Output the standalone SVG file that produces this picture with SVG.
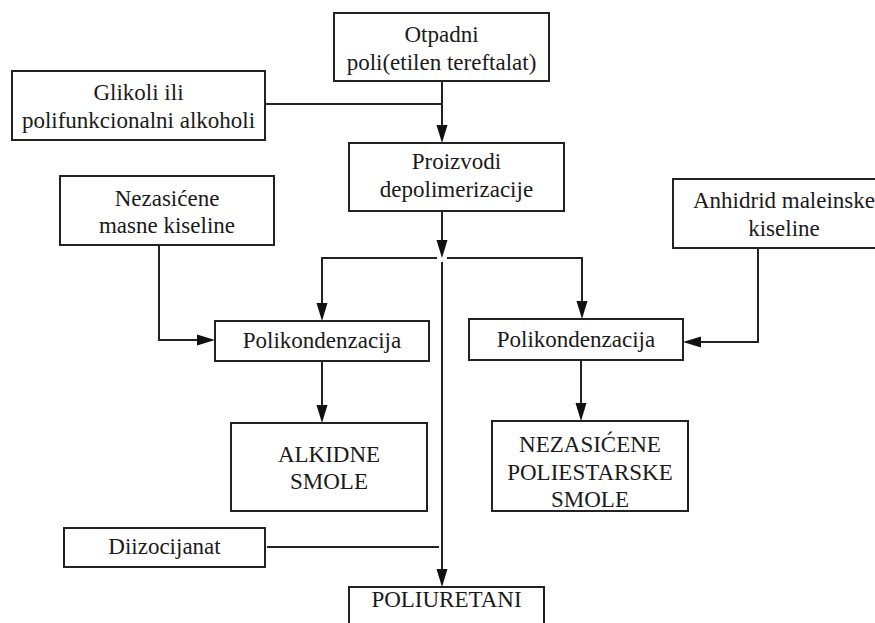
<svg xmlns="http://www.w3.org/2000/svg" width="875" height="623" viewBox="0 0 875 623">
<style>
  .box { fill: #ffffff; stroke: #222222; stroke-width: 2; }
  .lbl { font-family: 'Liberation Serif', Tinos, 'Times New Roman', Times, 'DejaVu Serif', serif; font-size: 23px; fill: #1a1a1a; text-anchor: middle; }
  .con { fill: none; stroke: #222222; stroke-width: 2; }
</style>
<defs>
  <marker id="ah" markerWidth="18" markerHeight="12" refX="10" refY="6" orient="auto" markerUnits="userSpaceOnUse">
    <path d="M0,0.5 L18,6 L0,11.5 Z" fill="#111111"/>
  </marker>
</defs>
<rect width="875" height="623" fill="#ffffff"/>

<g id="connectors">
  <path class="con" d="M442,81 V135" marker-end="url(#ah)"/>
  <path class="con" d="M266,104 H441"/>
  <path class="con" d="M442,211 V250" marker-end="url(#ah)"/>
  <path class="con" d="M437,258 H322 V313" marker-end="url(#ah)"/>
  <path class="con" d="M447,258 H582 V311" marker-end="url(#ah)"/>
  <path class="con" d="M442,262 V579" marker-end="url(#ah)"/>
  <path class="con" d="M159,245 V340 H207" marker-end="url(#ah)"/>
  <path class="con" d="M758,248 V342 H691" marker-end="url(#ah)"/>
  <path class="con" d="M322,361 V415" marker-end="url(#ah)"/>
  <path class="con" d="M581,360 V413" marker-end="url(#ah)"/>
  <path class="con" d="M267,547 H439"/>
</g>

<g id="n-otpadni">
  <rect class="box" x="334" y="13" width="215" height="68"/>
  <text class="lbl" font-family="Liberation Serif" x="441.5" y="42">Otpadni</text>
  <text class="lbl" font-family="Liberation Serif" x="441.5" y="70">poli(etilen tereftalat)</text>
</g>
<g id="n-glikoli">
  <rect class="box" x="12" y="71" width="253" height="69"/>
  <text class="lbl" x="138.5" y="100">Glikoli ili</text>
  <text class="lbl" x="138.5" y="128">polifunkcionalni alkoholi</text>
</g>
<g id="n-proizvodi">
  <rect class="box" x="349" y="143" width="215" height="68"/>
  <text class="lbl" x="456.5" y="169">Proizvodi</text>
  <text class="lbl" x="456.5" y="197">depolimerizacije</text>
</g>
<g id="n-nezasicene-masne">
  <rect class="box" x="60" y="176" width="214" height="69"/>
  <text class="lbl" x="167" y="206">Nezasićene</text>
  <text class="lbl" x="167" y="233">masne kiseline</text>
</g>
<g id="n-anhidrid">
  <rect class="box" x="673" y="179" width="222" height="69"/>
  <text class="lbl" x="784" y="208">Anhidrid maleinske</text>
  <text class="lbl" x="784" y="236">kiseline</text>
</g>
<g id="n-polikond-1">
  <rect class="box" x="215" y="321" width="214" height="40"/>
  <text class="lbl" x="322" y="348">Polikondenzacija</text>
</g>
<g id="n-polikond-2">
  <rect class="box" x="469" y="319" width="214" height="41"/>
  <text class="lbl" x="576" y="347">Polikondenzacija</text>
</g>
<g id="n-alkidne">
  <rect class="box" x="231" y="423" width="196" height="88"/>
  <text class="lbl" x="329" y="462">ALKIDNE</text>
  <text class="lbl" x="329" y="489">SMOLE</text>
</g>
<g id="n-poliestarske">
  <rect class="box" x="492" y="421" width="196" height="90"/>
  <text class="lbl" x="590" y="452">NEZASIĆENE</text>
  <text class="lbl" x="590" y="480">POLIESTARSKE</text>
  <text class="lbl" x="590" y="507">SMOLE</text>
</g>
<g id="n-diizocijanat">
  <rect class="box" x="64" y="528" width="201" height="39"/>
  <text class="lbl" x="164.5" y="554">Diizocijanat</text>
</g>
<g id="n-poliuretani">
  <rect class="box" x="349" y="587" width="195" height="50"/>
  <text class="lbl" x="446.5" y="607">POLIURETANI</text>
</g>
</svg>
